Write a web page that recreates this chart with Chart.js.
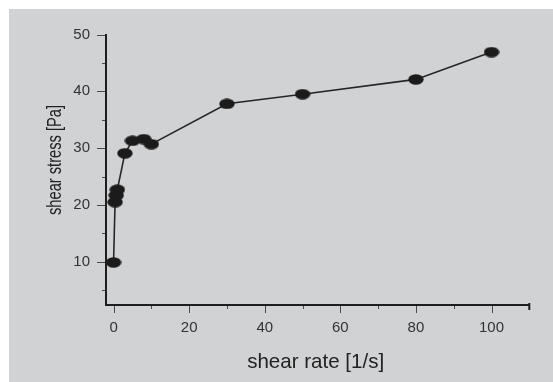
<!DOCTYPE html>
<html>
<head>
<meta charset="utf-8">
<script src="https://cdn.jsdelivr.net/npm/chart.js@4.4.1/dist/chart.umd.min.js"></script>
<style>
  html, body { margin: 0; padding: 0; background: #fff; }
  #wrap { width: 553px; height: 382px; position: relative; }
</style>
</head>
<body>
<div id="wrap"><canvas id="chart" width="553" height="382"></canvas></div>
<script>
// values
const shearRate   = [0, 0.4, 0.7, 1, 3, 5, 8, 10, 30, 50, 80, 100];
const shearStress = [9.9, 20.5, 21.7, 22.7, 29.1, 31.3, 31.6, 30.7, 37.8, 39.5, 42.1, 46.9];

const xTicks      = [0, 20, 40, 60, 80, 100];
const xMinorTicks = [10, 30, 50, 70, 90];
const yTicks      = [10, 20, 30, 40, 50];
const yMinorTicks = [5, 15, 25, 35, 45];

const xTitle = 'shear rate [1/s]';
const yTitle = 'shear stress [Pa]';

const FONT = "'Liberation Sans', Arial, sans-serif";

// flattened dot like the original markers
function ellipseDot(w, h, color) {
  const c = document.createElement('canvas');
  c.width = w; c.height = h;
  const g = c.getContext('2d');
  g.fillStyle = color;
  g.beginPath();
  g.ellipse(w / 2, h / 2, w / 2 - 0.3, h / 2 - 0.3, 0, 0, Math.PI * 2);
  g.fill();
  return c;
}

const panel = {
  id: 'panel',
  beforeDraw(chart) {
    const ctx = chart.ctx;
    ctx.save();
    ctx.fillStyle = '#d1d2d4';
    ctx.fillRect(9, 9, chart.width - 9, chart.height - 9);
    ctx.restore();
  },
  afterDraw(chart) {
    const ctx = chart.ctx;
    const x = chart.scales.x, y = chart.scales.y;
    const area = chart.chartArea;
    ctx.save();
    ctx.strokeStyle = '#4a4a4a';
    ctx.lineWidth = 1;
    const xt = (v, len) => {
      const px = Math.round(x.getPixelForValue(v)) + 0.5;
      ctx.beginPath(); ctx.moveTo(px, area.bottom + 1); ctx.lineTo(px, area.bottom + len); ctx.stroke();
    };
    const yt = (v, len) => {
      const py = Math.round(y.getPixelForValue(v)) + 0.5;
      ctx.beginPath(); ctx.moveTo(area.left - 1, py); ctx.lineTo(area.left - len, py); ctx.stroke();
    };
    xTicks.forEach(v => xt(v, 8));
    xMinorTicks.forEach(v => xt(v, 4));
    yTicks.forEach(v => yt(v, 9));
    yMinorTicks.forEach(v => yt(v, 4));
    // end cap on the x axis
    ctx.strokeStyle = '#1e1e1e';
    ctx.lineWidth = 2;
    ctx.beginPath(); ctx.moveTo(area.right, area.bottom - 2); ctx.lineTo(area.right, area.bottom + 5); ctx.stroke();

    // axis titles
    ctx.fillStyle = '#222';
    ctx.textAlign = 'center';
    ctx.textBaseline = 'middle';
    ctx.font = '21px ' + FONT;
    ctx.fillText(xTitle, (area.left + area.right) / 2 - 2, 362, 137);
    ctx.translate(55, 160);
    ctx.rotate(-Math.PI / 2);
    ctx.font = '21px ' + FONT;
    ctx.fillText(yTitle, 0, 0, 110);
    ctx.restore();
  }
};

new Chart(document.getElementById('chart'), {
  type: 'scatter',
  data: {
    datasets: [{
      data: shearRate.map((v, i) => ({ x: v, y: shearStress[i] })),
      showLine: true,
      borderColor: '#262626',
      borderWidth: 1.6,
      pointStyle: ellipseDot(16, 11, '#1b1b1b'),
      pointRadius: 6,
      pointHoverRadius: 6
    }]
  },
  options: {
    responsive: false,
    animation: false,
    events: [],
    layout: { padding: { left: 0, top: 34.5, right: 23.7, bottom: 0 } },
    plugins: { legend: { display: false }, tooltip: { enabled: false } },
    scales: {
      x: {
        type: 'linear',
        min: -2, max: 110,
        afterBuildTicks: s => { s.ticks = xTicks.map(v => ({ value: v })); },
        afterFit: s => { s.height = 77; },
        grid: { display: false, drawTicks: false },
        border: { display: true, color: '#1e1e1e', width: 2 },
        ticks: { color: '#333', padding: 14, maxRotation: 0, autoSkip: false,
                 font: { family: FONT, size: 15 } }
      },
      y: {
        type: 'linear',
        min: 2.4, max: 50,
        afterBuildTicks: s => { s.ticks = yTicks.map(v => ({ value: v })); },
        afterFit: s => { s.width = 106; },
        grid: { display: false, drawTicks: false },
        border: { display: true, color: '#1e1e1e', width: 2 },
        ticks: { color: '#333', padding: 16, autoSkip: false,
                 font: { family: FONT, size: 15 } }
      }
    }
  },
  plugins: [panel]
});
</script>
</body>
</html>
